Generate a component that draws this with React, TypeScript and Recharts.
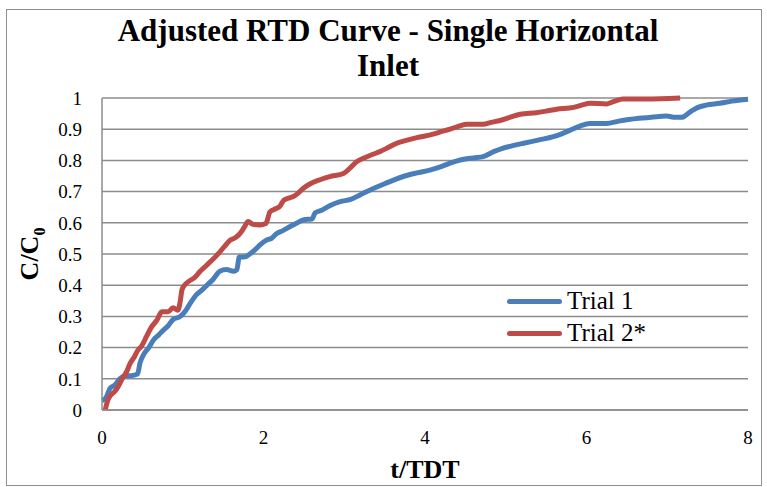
import React from 'react';
import { LineChart, Line, XAxis, YAxis, CartesianGrid, Legend } from 'recharts';

const trial1T = [
  0, 0.05, 0.1, 0.16, 0.22, 0.3, 0.36, 0.44, 0.47, 0.52, 0.58, 0.64, 0.7, 0.76, 0.82, 0.88, 0.97,
  1.04, 1.1, 1.17, 1.24, 1.3, 1.38, 1.46, 1.54, 1.63, 1.67, 1.7, 1.76, 1.83, 1.9, 1.96, 2.04, 2.1,
  2.16, 2.24, 2.33, 2.42, 2.5, 2.6, 2.64, 2.72, 2.82, 2.95, 3.08, 3.2, 3.36, 3.5, 3.61, 3.75, 3.9,
  4.06, 4.2, 4.31, 4.45, 4.6, 4.72, 4.85, 4.95, 5.1, 5.22, 5.4, 5.59, 5.7, 5.8, 5.92, 6.04, 6.25,
  6.4, 6.5, 6.65, 6.8, 6.99, 7.1, 7.18, 7.28, 7.38, 7.48, 7.65, 7.8, 8.0,
];
const trial1C = [
  0.03, 0.04, 0.07, 0.08, 0.1, 0.11, 0.11, 0.115, 0.15, 0.18, 0.2, 0.225, 0.24, 0.256, 0.27, 0.29, 0.3,
  0.32, 0.345, 0.37, 0.385, 0.4, 0.42, 0.445, 0.45, 0.445, 0.45, 0.49, 0.49, 0.5, 0.515, 0.53, 0.545, 0.55,
  0.565, 0.575, 0.588, 0.6, 0.61, 0.612, 0.632, 0.64, 0.655, 0.668, 0.675, 0.69, 0.71, 0.725, 0.737, 0.75, 0.76,
  0.769, 0.78, 0.791, 0.802, 0.808, 0.812, 0.828, 0.838, 0.848, 0.855, 0.865, 0.876, 0.886, 0.897, 0.91, 0.918, 0.918,
  0.926, 0.93, 0.935, 0.938, 0.942, 0.938, 0.938, 0.955, 0.97, 0.977, 0.983, 0.99, 0.996,
];

const trial2T = [
  0.04, 0.07, 0.1, 0.16, 0.2, 0.26, 0.3, 0.35, 0.4, 0.44, 0.49, 0.55, 0.61, 0.68, 0.74, 0.82, 0.88, 0.94,
  0.97, 0.99, 1.04, 1.09, 1.15, 1.21, 1.28, 1.34, 1.4, 1.46, 1.52, 1.59, 1.65, 1.71, 1.76, 1.81, 1.87,
  1.95, 2.03, 2.08, 2.15, 2.2, 2.25, 2.32, 2.37, 2.43, 2.49, 2.58, 2.7, 2.82, 2.99, 3.07, 3.15, 3.23,
  3.34, 3.44, 3.55, 3.65, 3.78, 3.9, 4.1, 4.2, 4.31, 4.42, 4.52, 4.72, 4.82, 4.93, 5.05, 5.18, 5.38,
  5.5, 5.63, 5.84, 5.95, 6.04, 6.25, 6.35, 6.45, 6.74, 7.16,
];
const trial2C = [
  0, 0.03, 0.045, 0.06, 0.075, 0.105, 0.12, 0.15, 0.17, 0.19, 0.205, 0.235, 0.265, 0.288, 0.315, 0.315, 0.328, 0.32,
  0.35, 0.385, 0.405, 0.415, 0.425, 0.443, 0.46, 0.475, 0.49, 0.507, 0.525, 0.545, 0.552, 0.566, 0.585, 0.604, 0.595,
  0.593, 0.598, 0.635, 0.645, 0.652, 0.672, 0.68, 0.684, 0.695, 0.71, 0.725, 0.738, 0.748, 0.758, 0.775, 0.795, 0.806,
  0.818, 0.828, 0.842, 0.855, 0.865, 0.873, 0.884, 0.892, 0.9, 0.91, 0.916, 0.916, 0.922, 0.928, 0.938, 0.948, 0.953,
  0.958, 0.964, 0.97, 0.978, 0.983, 0.981, 0.99, 0.997, 0.997, 1.0,
];

const xTicks = [0, 2, 4, 6, 8];
const yTicks = [0, 0.1, 0.2, 0.3, 0.4, 0.5, 0.6, 0.7, 0.8, 0.9, 1];

const series = [
  { name: 'Trial 1', color: '#4a7ebb', t: trial1T, c: trial1C },
  { name: 'Trial 2*', color: '#be4b48', t: trial2T, c: trial2C },
];

const zip = (t: number[], c: number[]) => t.map((x, i) => ({ t: x, c: c[i] }));

const serif = '"Liberation Serif", "Times New Roman", serif';

function LegendBox() {
  return (
    <div style={{ fontFamily: serif, fontSize: 25, color: '#000' }}>
      {series.map((s) => (
        <div key={s.name} style={{ display: 'flex', alignItems: 'center', height: 32 }}>
          <span
            style={{
              display: 'inline-block',
              width: 55,
              height: 5,
              borderRadius: 3,
              background: s.color,
              marginRight: 5,
            }}
          />
          <span>{s.name}</span>
        </div>
      ))}
    </div>
  );
}

export default function App() {
  return (
    <div
      style={{
        position: 'absolute',
        left: 6,
        top: 9,
        width: 756,
        height: 477,
        border: '1px solid #8f8f8f',
        boxSizing: 'border-box',
        background: '#fff',
      }}
    >
      <div
        style={{
          position: 'absolute',
          left: 81,
          top: 3,
          width: 600,
          textAlign: 'center',
          fontFamily: serif,
          fontWeight: 'bold',
          fontSize: 31,
          lineHeight: '35px',
          color: '#000',
        }}
      >
        Adjusted RTD Curve - Single Horizontal
        <br />
        Inlet
      </div>
      <div
        style={{
          position: 'absolute',
          left: 25,
          top: 244,
          transform: 'translate(-50%, -50%) rotate(-90deg)',
          whiteSpace: 'nowrap',
          fontFamily: serif,
          fontWeight: 'bold',
          fontSize: 26,
          color: '#000',
        }}
      >
        C/C<sub style={{ fontSize: 16 }}>0</sub>
      </div>
      <div
        style={{
          position: 'absolute',
          left: 418,
          top: 460,
          transform: 'translate(-50%, -50%)',
          whiteSpace: 'nowrap',
          fontFamily: serif,
          fontWeight: 'bold',
          fontSize: 26,
          color: '#000',
        }}
      >
        t/TDT
      </div>
      <LineChart
        width={754}
        height={475}
        margin={{ top: 88, right: 13, left: 35, bottom: 45 }}
        style={{ position: 'absolute', left: 0, top: 0 }}
      >
        <CartesianGrid vertical={false} stroke="#8c8c8c" strokeWidth={1.5} />
        <XAxis
          type="number"
          dataKey="t"
          domain={[0, 8]}
          ticks={xTicks}
          height={30}
          tickLine={false}
          tickSize={6}
          tickMargin={15}
          axisLine={{ stroke: '#8c8c8c', strokeWidth: 1.5 }}
          tick={{ fill: '#000', fontSize: 19, fontFamily: serif }}
          allowDuplicatedCategory={false}
        />
        <YAxis
          type="number"
          dataKey="c"
          domain={[0, 1]}
          ticks={yTicks}
          width={60}
          tickLine={false}
          tickSize={6}
          tickMargin={14}
          axisLine={{ stroke: '#8c8c8c', strokeWidth: 1.5 }}
          tick={{ fill: '#000', fontSize: 19, fontFamily: serif }}
        />
        <Legend
          layout="vertical"
          align="center"
          verticalAlign="middle"
          wrapperStyle={{ left: 500, top: 275, width: 200 }}
          content={() => <LegendBox />}
        />
        {series.map((s) => (
          <Line
            key={s.name}
            data={zip(s.t, s.c)}
            dataKey="c"
            name={s.name}
            type="monotone"
            stroke={s.color}
            strokeWidth={5}
            strokeLinejoin="round"
            dot={false}
            activeDot={false}
            isAnimationActive={false}
          />
        ))}
      </LineChart>
    </div>
  );
}
